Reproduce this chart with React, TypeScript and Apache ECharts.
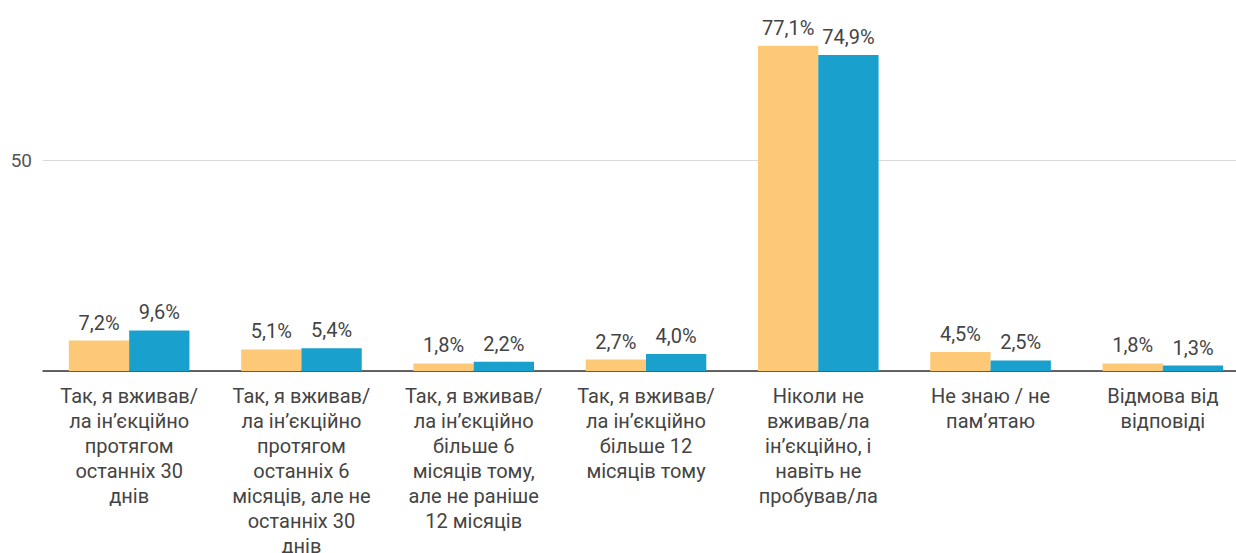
import React, { useEffect, useRef } from "react";
import * as echarts from "echarts";

const categories = [
  "Так, я вживав/\nла ін’єкційно\nпротягом\nостанніх 30\nднів",
  "Так, я вживав/\nла ін’єкційно\nпротягом\nостанніх 6\nмісяців, але не\nостанніх 30\nднів",
  "Так, я вживав/\nла ін’єкційно\nбільше 6\nмісяців тому,\nале не раніше\n12 місяців",
  "Так, я вживав/\nла ін’єкційно\nбільше 12\nмісяців тому",
  "Ніколи не\nвживав/ла\nін’єкційно, і\nнавіть не\nпробував/ла",
  "Не знаю / не\nпам’ятаю",
  "Відмова від\nвідповіді",
];
const seriesA = [7.2, 5.1, 1.8, 2.7, 77.1, 4.5, 1.8];
const seriesB = [9.6, 5.4, 2.2, 4.0, 74.9, 2.5, 1.3];

const fmt = (v: number) => v.toFixed(1).replace(".", ",") + "%";

export default function App() {
  const ref = useRef<HTMLDivElement>(null);
  useEffect(() => {
    const chart = echarts.init(ref.current!, null, { renderer: "svg" });
    const label = {
      show: true,
      position: "top",
      distance: 8,
      fontFamily: "Roboto",
      fontSize: 20,
      color: "#444",
      formatter: (p: any) => fmt(p.value),
    };
    chart.setOption({
      animation: false,
      textStyle: { fontFamily: "Roboto" },
      grid: {
        left: 43,
        right: -13,
        top: -51,
        bottom: 182,
        containLabel: false,
        outerBoundsMode: "none",
      },
      xAxis: {
        type: "category",
        data: categories,
        axisLine: { lineStyle: { color: "#333", width: 1.5 } },
        axisTick: { show: false },
        axisLabel: {
          interval: 0,
          fontFamily: "Roboto",
          fontSize: 20,
          lineHeight: 25,
          color: "#444",
          margin: 12,
        },
      },
      yAxis: {
        type: "value",
        min: 0,
        max: 100,
        interval: 50,
        axisLine: { show: false },
        axisTick: { show: false },
        axisLabel: {
          fontFamily: "Roboto",
          fontSize: 19,
          color: "#555",
          margin: 11,
          formatter: (v: number) => (v === 50 ? "50" : ""),
        },
        splitLine: { lineStyle: { color: "#d9d9d9", width: 1 } },
      },
      series: [
        {
          type: "bar",
          data: seriesA,
          itemStyle: { color: "#FDC976" },
          barGap: "0%",
          barCategoryGap: "30%",
          label,
        },
        {
          type: "bar",
          data: seriesB,
          itemStyle: { color: "#1AA0CD" },
          barGap: "0%",
          barCategoryGap: "30%",
          label,
        },
      ],
    });
    return () => chart.dispose();
  }, []);
  return (
    <div
      ref={ref}
      style={{ position: "absolute", left: 0, top: 0, width: 1236, height: 553 }}
    />
  );
}
